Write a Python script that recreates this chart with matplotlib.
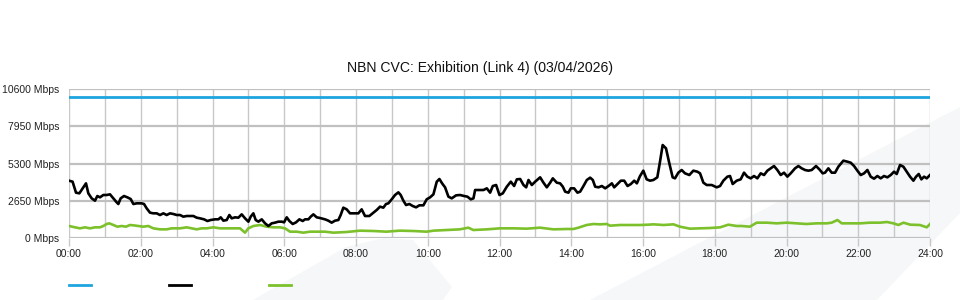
import matplotlib
matplotlib.use("Agg")
import matplotlib.pyplot as plt
from matplotlib.patches import Polygon
from matplotlib.lines import Line2D
from matplotlib.ticker import FuncFormatter, MultipleLocator

plt.rcParams['font.family'] = ['Liberation Sans', 'DejaVu Sans']

title = "NBN CVC: Exhibition (Link 4) (03/04/2026)"
y_ticks = [0, 2650, 5300, 7950, 10600]
capacity = 10000

# black series (hours, Mbps)
black_t = [0.0, 0.10, 0.195, 0.288, 0.381, 0.474, 0.539, 0.632, 0.725, 0.790, 0.864, 0.957,
           1.050, 1.143, 1.236, 1.329, 1.375, 1.440, 1.533, 1.626, 1.719, 1.794, 1.887, 2.026,
           2.091, 2.165, 2.258, 2.351, 2.444, 2.537, 2.630, 2.723, 2.816, 2.909, 3.002, 3.095,
           3.188, 3.281, 3.374, 3.467, 3.559, 3.652, 3.764, 3.857, 3.950, 4.071, 4.164, 4.229,
           4.303, 4.396, 4.470, 4.535, 4.628, 4.721, 4.814, 4.907, 5.0, 5.065, 5.139, 5.204,
           5.279, 5.372, 5.465, 5.558, 5.651, 5.743, 5.836, 5.929, 5.994, 6.069, 6.143, 6.236,
           6.329, 6.422, 6.515, 6.580, 6.673, 6.738, 6.812, 6.905, 7.0, 7.136, 7.229, 7.322,
           7.415, 7.508, 7.573, 7.647, 7.740, 7.833, 7.926, 8.065, 8.158, 8.251, 8.372, 8.484,
           8.577, 8.670, 8.762, 8.837, 8.902, 8.995, 9.088, 9.181, 9.246, 9.320, 9.395, 9.488,
           9.581, 9.674, 9.767, 9.879, 9.970, 10.065, 10.158, 10.251, 10.325, 10.400, 10.483,
           10.576, 10.669, 10.790, 10.901, 11.013, 11.106, 11.199, 11.274, 11.320, 11.460,
           11.553, 11.646, 11.739, 11.813, 11.906, 11.999, 12.092, 12.204, 12.315, 12.408,
           12.483, 12.576, 12.669, 12.743, 12.808, 12.901, 12.994, 13.133, 13.226, 13.319,
           13.412, 13.486, 13.597, 13.690, 13.765, 13.830, 13.922, 13.987, 14.080, 14.173,
           14.248, 14.341, 14.434, 14.527, 14.601, 14.667, 14.760, 14.853, 14.946, 15.039,
           15.132, 15.197, 15.290, 15.383, 15.476, 15.569, 15.662, 15.755, 15.829, 15.916,
           16.009, 16.102, 16.195, 16.288, 16.399, 16.474, 16.548, 16.641, 16.734, 16.827,
           16.892, 16.985, 17.078, 17.171, 17.292, 17.403, 17.515, 17.590, 17.683, 17.776,
           17.915, 18.055, 18.148, 18.240, 18.352, 18.426, 18.500, 18.612, 18.723, 18.816,
           18.909, 19.002, 19.095, 19.188, 19.281, 19.374, 19.467, 19.560, 19.652, 19.745,
           19.838, 19.931, 20.024, 20.117, 20.238, 20.331, 20.424, 20.517, 20.609, 20.702,
           20.823, 20.916, 21.009, 21.074, 21.167, 21.260, 21.353, 21.446, 21.585, 21.697,
           21.790, 21.883, 21.976, 22.069, 22.162, 22.255, 22.347, 22.440, 22.533, 22.626,
           22.719, 22.812, 22.905, 22.998, 23.072, 23.165, 23.258, 23.351, 23.444, 23.537,
           23.611, 23.686, 23.760, 23.835, 23.909, 24.0]
black_v = [4078, 4007, 3225, 3177, 3533, 3888, 3177, 2821, 2656, 2987, 2893, 3059,
           3059, 3106, 2821, 2537, 2418, 2821, 2987, 2893, 2774, 2418, 2466, 2466,
           2418, 2110, 1802, 1755, 1755, 1636, 1755, 1636, 1755, 1707, 1636, 1636,
           1517, 1565, 1565, 1565, 1446, 1399, 1328, 1209, 1280, 1328, 1328, 1470,
           1233, 1280, 1636, 1399, 1470, 1446, 1683, 1399, 1162, 1517, 1755, 1280,
           1162, 1328, 1043, 854, 1043, 1091, 1162, 1162, 1114, 1470, 1209, 996,
           1114, 1328, 1209, 1328, 1328, 1517, 1683, 1470, 1420, 1328, 1233, 1091,
           1233, 1280, 1636, 2158, 2039, 1755, 1755, 1755, 2039, 1565, 1565, 1802,
           1992, 2229, 2158, 2418, 2466, 2750, 3059, 3248, 3059, 2656, 2347, 2418,
           2276, 2181, 2324, 2324, 2750, 2893, 3106, 4007, 4197, 3888, 3604,
           2940, 2821, 3035, 3059, 2987, 2940, 2750, 2821, 3414, 3414,
           3414, 3533, 3225, 3699, 3770, 3059, 3177, 3651, 4007, 3699,
           4173, 4197, 3770, 3604, 4126, 3770, 4007, 4315, 3936, 3604,
           3936, 4244, 3936, 3888, 3651, 3296, 3225, 3533, 3533, 3225,
           3296, 3699, 4126, 4292, 4126, 3651, 3604, 3699, 3533, 3699,
           3888, 3604, 3841, 4078, 4078, 3699, 3841, 4078, 3888, 4400,
           4789, 4173, 4078, 4126, 4315, 5430, 6615, 6378, 5311, 4315,
           4244, 4647, 4837, 4600, 4481, 4789, 4718, 4600, 3936, 3770,
           3770, 3604, 3699, 4078, 4363, 4410, 3841, 4078, 4173, 4647,
           4363, 4244, 4410, 4244, 4600, 4481, 4789, 4955, 5121, 4837,
           4481, 4647, 4363, 4600, 4955, 5121, 4955, 4837, 4789, 4837,
           5121, 4884, 4600, 4647, 4955, 4647, 4647, 5074, 5501, 5430,
           5358, 5121, 4789, 4481, 4600, 4837, 4363, 4220, 4410, 4244,
           4410, 4315, 4481, 4718, 4552, 5192, 5074, 4718, 4363, 4078,
           4363, 4552, 4173, 4363, 4244, 4481]

# green series (hours, Mbps)
green_t = [0.0, 0.167, 0.307, 0.446, 0.586, 0.725, 0.864, 0.957, 1.050, 1.124, 1.236, 1.348,
           1.468, 1.589, 1.700, 1.794, 1.933, 2.072, 2.212, 2.351, 2.537, 2.723, 2.862, 3.095,
           3.281, 3.420, 3.559, 3.698, 3.838, 4.023, 4.210, 4.488, 4.767, 4.906, 5.0, 5.139,
           5.325, 5.51, 5.696, 5.882, 6.02, 6.16, 6.346, 6.532, 6.718, 6.905, 7.138, 7.37,
           7.74, 8.11, 8.48, 8.85, 9.22, 9.59, 9.97, 10.16, 10.53, 10.9, 11.13, 11.27, 11.65,
           12.02, 12.39, 12.76, 13.13, 13.5, 13.87, 14.06, 14.2, 14.43, 14.62, 14.8, 14.99,
           15.08, 15.36, 15.64, 15.92, 16.15, 16.29, 16.57, 16.85, 17.03, 17.31, 17.59, 17.87,
           18.15, 18.38, 18.61, 18.75, 18.98, 19.17, 19.45, 19.73, 20.01, 20.28, 20.56, 20.84,
           21.12, 21.26, 21.42, 21.54, 21.77, 22.05, 22.33, 22.61, 22.8, 22.98, 23.12, 23.26,
           23.45, 23.72, 23.91, 24.0]
green_v = [854, 759, 688, 759, 688, 759, 759, 854, 996, 1043, 925, 806,
           854, 806, 925, 901, 854, 806, 854, 688, 616, 616, 688, 688,
           759, 688, 616, 688, 688, 759, 688, 688, 688, 379, 688, 854,
           925, 806, 759, 759, 688, 450, 450, 379, 450, 450, 450, 379,
           427, 522, 498, 450, 522, 498, 450, 522, 569, 616, 735, 569, 616,
           688, 688, 664, 735, 616, 640, 640, 735, 925, 996, 972, 996,
           877, 925, 925, 925, 948, 972, 925, 972, 806, 664, 688, 711,
           759, 948, 854, 854, 806, 1091, 1091, 1043, 1091, 1043, 996, 1043,
           1043, 1091, 1280, 1043, 1043, 1043, 1091, 1091, 1138, 1043, 925, 1091,
           948, 925, 759, 996]

blue = "#1ea5e0"
green = "#7cc12b"
grid_c = "#c8c8c8"

fig = plt.figure(figsize=(9.6, 3.0), dpi=100)

# faint watermark shapes behind the chart
wm = "#f6f7f8"
fig.patches.append(Polygon([(253 / 960, 0.0), (346 / 960, 1 - 247 / 300), (384 / 960, 1 - 238 / 300),
                            (413 / 960, 1 - 240 / 300), (452 / 960, 1 - 287 / 300), (443 / 960, 0.0)],
                           closed=True, transform=fig.transFigure, facecolor=wm, edgecolor="none", zorder=0))
fig.patches.append(Polygon([(590 / 960, 0.0), (1.0, 1 - 107 / 300), (1.0, 1 - 213 / 300), (877 / 960, 0.0)],
                           closed=True, transform=fig.transFigure, facecolor=wm, edgecolor="none", zorder=0))

ax = fig.add_axes([69 / 960, 1 - 238 / 300, (930 - 69) / 960, (238 - 89) / 300])
ax.set_zorder(2)
ax.patch.set_alpha(0)

ax.plot([0, 24], [capacity, capacity], color=blue, lw=2, zorder=3)
ax.plot(black_t, black_v, color="black", lw=1.9, zorder=4)
ax.plot(green_t, green_v, color=green, lw=1.9, zorder=3)

ax.set_xlim(0, 24)
ax.set_ylim(0, 10600)
ax.set_title(title, fontsize=10.1, color="#111111", pad=12, x=(480 - 69) / (930 - 69))

ax.xaxis.set_major_locator(MultipleLocator(2))
ax.xaxis.set_minor_locator(MultipleLocator(1))
ax.xaxis.set_major_formatter(FuncFormatter(lambda v, p: "%02d:00" % int(v)))
ax.set_yticks(y_ticks)
ax.yaxis.set_major_formatter(FuncFormatter(lambda v, p: "%d Mbps" % int(v)))

ax.tick_params(axis="x", which="major", length=6, width=1, color=grid_c, labelsize=7.5,
               labelcolor="#222222", pad=2)
ax.tick_params(axis="x", which="minor", length=0)
ax.tick_params(axis="y", length=0, labelsize=7.5, labelcolor="#222222", pad=7)

ax.grid(True, axis="x", which="both", color=grid_c, lw=1)
ax.grid(True, axis="y", which="major", color="#c0c0c0", lw=1.6)
for s in ax.spines.values():
    s.set_visible(False)

# legend swatches without text
for i, c in enumerate([blue, "black", green]):
    x0 = (69 + i * 100) / 960
    fig.lines.append(Line2D([x0, x0 + 22 / 960], [1 - 285 / 300] * 2, color=c, lw=2,
                            transform=fig.transFigure, zorder=3))

fig.savefig("out.png", dpi=100)
